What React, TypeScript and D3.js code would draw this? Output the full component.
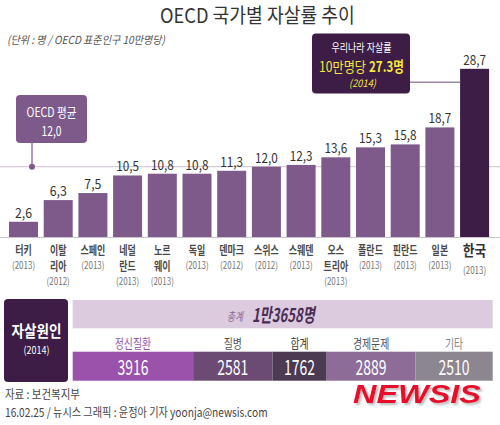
import React, { useLayoutEffect, useRef, useState } from "react";
import * as d3 from "d3";

const countryLines: string[][] = [
  ["터키"], ["이탈", "리아"], ["스페인"], ["네덜", "란드"], ["노르", "웨이"], ["독일"], ["덴마크"],
  ["스위스"], ["스웨덴"], ["오스", "트리아"], ["폴란드"], ["핀란드"], ["일본"], ["한국"],
];
const years = [2013, 2012, 2013, 2013, 2013, 2013, 2012, 2012, 2013, 2013, 2013, 2013, 2013, 2013];
const rates = [2.6, 6.3, 7.5, 10.5, 10.8, 10.8, 11.3, 12.0, 12.3, 13.6, 15.3, 15.8, 18.7, 28.7];
const oecdAverage = 12.0;

const causeNames = ["정신질환", "질병", "합계", "경제문제", "기타"];
const causeValues = [3916, 2581, 1762, 2889, 2510];
const causeColors = ["#9a52ab", "#6b4b74", "#4b3a52", "#8e6c98", "#8b8690"];
const causeLabelColors = ["#9a52ab", "#555", "#444", "#555", "#888"];

const KR = "'Noto Sans CJK KR', 'Noto Sans', sans-serif";
const BAR = "#7d5a8a";
const DARK = "#3d1c45";

const fmt = (v: number) => v.toFixed(1).replace(".", ",");

type FitProps = {
  x: number; y: number; w: number; anchor?: string; children: React.ReactNode;
  [k: string]: any;
};

// Text horizontally scaled so that its rendered width equals w (condensed look).
function FitText({ x, y, w, anchor = "start", children, ...rest }: FitProps) {
  const ref = useRef<SVGTextElement>(null);
  const [s, setS] = useState(1);
  useLayoutEffect(() => {
    const el = ref.current;
    if (el) {
      const n = el.getComputedTextLength();
      if (n > 0) setS(w / n);
    }
  }, [w, children]);
  return (
    <text ref={ref} transform={`translate(${x},${y}) scale(${s},1)`} textAnchor={anchor} {...rest}>{children}</text>
  );
}

export default function App() {
  const x = d3.scaleBand<number>().domain(d3.range(rates.length)).range([9, 489.1]).paddingInner(0.164).paddingOuter(0);
  const y = d3.scaleLinear().domain([0, 30]).range([237, 61.2]);
  const total = d3.sum(causeValues);
  const cx = d3.scaleLinear().domain([0, total]).range([72.7, 492.7]);
  const starts = causeValues.map((_, i) => d3.sum(causeValues.slice(0, i)));
  const last = rates.length - 1;
  const avgY = y(oecdAverage);
  const avgX = 32;

  return (
    <svg width={500} height={425} style={{ position: "absolute", left: 0, top: 0, background: "#fff" }} fontFamily={KR}>
      <defs>
        <filter id="sh" x="-10%" y="-20%" width="130%" height="160%">
          <feDropShadow dx={2} dy={2} stdDeviation={1} floodColor="#777" floodOpacity={0.5} />
        </filter>
      </defs>
      <rect width={500} height={425} fill="#fff" />
      {/* Title */}
      <FitText x={160} y={23} w={195} fontSize={20} fill="#333">OECD 국가별 자살률 추이</FitText>
      <FitText x={7} y={44} w={158} fontSize={11} fontStyle="italic" fill="#555">(단위 : 명 / OECD 표준인구 10만명당)</FitText>

      {/* Baseline & average line */}
      <line x1={0} x2={500} y1={237.5} y2={237.5} stroke="#c9c3cc" strokeWidth={1} />
      <line x1={0} x2={500} y1={avgY} y2={avgY} stroke="#d8cbdc" strokeWidth={1.2} />

      {/* Bars */}
      {rates.map((v, i) => {
        const mx = (x(i) as number) + x.bandwidth() / 2;
        const label = fmt(v);
        const isK = i === last;
        const n = countryLines[i].length;
        const nameY0 = isK ? 256 : 254.5;
        const yearY = nameY0 + (n - 1) * 16 + (isK ? 17.5 : 14.5);
        return (
          <g key={i}>
            <rect x={x(i)} y={y(v)} width={x.bandwidth()} height={y(0) - y(v)} fill={isK ? DARK : BAR} />
            <FitText x={mx} y={y(v) - 4} w={label.length * 5.7} anchor="middle" fontSize={14} fill="#333">{label}</FitText>
            {countryLines[i].map((l, j) => (
              <text key={j} transform={`translate(${mx},${nameY0 + j * 16}) scale(${isK ? 0.85 : 0.75},1)`} textAnchor="middle"
                fontSize={isK ? 15 : 12} fontWeight="bold" fill={isK ? "#333" : "#4a4a4a"}>{l}</text>
            ))}
            <text transform={`translate(${mx},${yearY}) scale(0.8,1)`} textAnchor="middle"
              fontSize={10} fill="#777">({years[i]})</text>
          </g>
        );
      })}

      {/* OECD average callout */}
      <line x1={avgX} x2={avgX} y1={143} y2={avgY} stroke={BAR} strokeWidth={1.2} />
      <circle cx={avgX} cy={avgY} r={3} fill={BAR} />
      <rect x={16} y={95} width={71} height={48} rx={4} fill={BAR} />
      <FitText x={51.5} y={117} w={50} anchor="middle" fontSize={13} fill="#fff">OECD 평균</FitText>
      <FitText x={51.5} y={136} w={20} anchor="middle" fontSize={14} fill="#fff">{fmt(oecdAverage)}</FitText>

      {/* Korea callout */}
      <line x1={410} x2={x(last) as number} y1={82.3} y2={82.3} stroke="#9b86a3" strokeWidth={1.5} />
      <rect x={312} y={33.5} width={98} height={60} rx={4} fill={DARK} />
      <FitText x={361.5} y={51.5} w={60} anchor="middle" fontSize={11.5} fill="#fff">우리나라 자살률</FitText>
      <FitText x={319} y={72} w={47} fontSize={14} fill="#f5e93a">10만명당</FitText>
      <FitText x={369} y={72} w={35} fontSize={15} fontWeight="bold" fill="#f5e93a">27.3명</FitText>
      <FitText x={362.5} y={87} w={27} anchor="middle" fontSize={10.5} fontStyle="italic" fill="#f5e93a">(2014)</FitText>

      {/* Causes section */}
      <rect x={4} y={299} width={64} height={83} rx={4} fill={DARK} />
      <FitText x={36.5} y={337} w={50} anchor="middle" fontSize={16} fontWeight="bold" fill="#fff">자살원인</FitText>
      <FitText x={36.5} y={354} w={26} anchor="middle" fontSize={10.5} fill="#fff">(2014)</FitText>

      <rect x={cx(0)} y={300} width={cx(total) - cx(0)} height={28.3} fill="#dccbdf" />
      <FitText x={227} y={320.5} w={16} fontSize={12} fontStyle="italic" fill="#8a6a92">총계</FitText>
      <FitText x={252} y={322} w={63} fontSize={19} fontStyle="italic" fontWeight="bold" fill="#4a2d55">1만3658명</FitText>

      {causeValues.map((v, i) => {
        const x0 = cx(starts[i]);
        const x1 = cx(starts[i] + v);
        const mid = (x0 + x1) / 2;
        return (
          <g key={i}>
            <FitText x={mid} y={348} w={causeNames[i].length * 9.1} anchor="middle" fontSize={13} fill={causeLabelColors[i]}>{causeNames[i]}</FitText>
            <rect x={x0} y={351.7} width={x1 - x0} height={29} fill={causeColors[i]} />
            <FitText x={mid} y={375} w={31} anchor="middle" fontSize={21} fill="#fff">{String(v)}</FitText>
          </g>
        );
      })}

      {/* Footer */}
      <FitText x={5} y={399} w={75} fontSize={12} fill="#444">자료 : 보건복지부</FitText>
      <FitText x={5} y={417} w={263} fontSize={12} fill="#444">16.02.25 / 뉴시스 그래픽 : 윤정아 기자 yoonja@newsis.com</FitText>

      {/* Logo */}
      <g filter="url(#sh)">
        <FitText x={353} y={403} w={128} fontFamily="'Liberation Sans', Arial, sans-serif" fontSize={26} fontWeight="900"
          fontStyle="italic" fill="#e8102a">NEWSIS</FitText>
      </g>
    </svg>
  );
}
